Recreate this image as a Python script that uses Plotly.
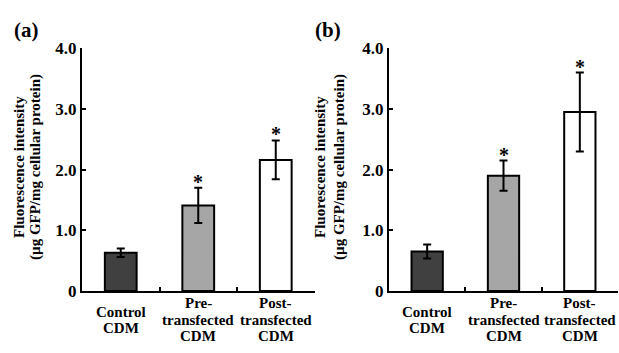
import plotly.graph_objects as go

cat_keys = ["Control", "Pre", "Post"]
cat_lines = [["Control", "CDM"], ["Pre-", "transfected", "CDM"], ["Post-", "transfected", "CDM"]]
means_a = [0.63, 1.41, 2.16]
errs_a = [0.07, 0.29, 0.32]
means_b = [0.65, 1.90, 2.95]
errs_b = [0.115, 0.25, 0.65]
sig = ["", "*", "*"]
bar_colors = ["#404040", "#a6a6a6", "#ffffff"]
ytick_vals = [0, 1, 2, 3, 4]
ytick_text = ["0", "1.0", "2.0", "3.0", "4.0"]
panel_labels = ["(a)", "(b)"]
y_title_lines = ["Fluorescence intensity", "(µg GFP/mg cellular protein)"]

W, H = 619, 353
FONT = "Liberation Serif, Times New Roman, serif"

fig = go.Figure()
annotations = []

def bold(size):
    return dict(family=FONT, size=size, color="black", weight="bold")

panels = [
    ("x", "y", means_a, errs_a, [19, 35], 12, panel_labels[0]),
    ("x2", "y2", means_b, errs_b, [320, 339], 313, panel_labels[1]),
]
for xa, ya, means, errs, title_x, lab_x, plab in panels:
    fig.add_trace(go.Bar(
        x=cat_keys, y=means, xaxis=xa, yaxis=ya, width=0.41,
        marker=dict(color=bar_colors, line=dict(color="black", width=2)),
        error_y=dict(type="data", array=errs, visible=True, color="black", thickness=2, width=4),
        showlegend=False, hoverinfo="skip",
    ))
    for k, m, e, s in zip(cat_keys, means, errs, sig):
        if s:
            annotations.append(dict(x=k, y=m + e, xref=xa, yref=ya, text="<b>*</b>", showarrow=False,
                                    yanchor="bottom", yshift=-7, font=bold(20)))
    # category labels (one annotation per line, centred under each bar)
    for k, lines in zip(cat_keys, cat_lines):
        n = len(lines)
        for i, line in enumerate(lines):
            ypx = 328.5 + (i - (n - 1) / 2) * 17.5
            annotations.append(dict(x=k, y=(H - ypx) / H, xref=xa, yref="paper", text=line,
                                    showarrow=False, yanchor="middle", xanchor="center", font=bold(15)))
    # y-axis title (two tight rotated lines)
    for tx, line in zip(title_x, y_title_lines):
        annotations.append(dict(x=tx / W, y=(H - 167) / H, xref="paper", yref="paper", text=line,
                                textangle=-90, showarrow=False, xanchor="center", yanchor="middle",
                                font=bold(15)))
    annotations.append(dict(x=lab_x / W, y=(H - 22) / H, xref="paper", yref="paper", text=plab,
                            showarrow=False, xanchor="left", yanchor="middle", font=bold(21)))

ydom = [(H - 298) / H, (H - 41.5) / H]
xax = dict(range=[-0.5, 2.5], showline=True, linecolor="black", linewidth=2, ticks="inside",
           tickson="boundaries", ticklen=4, tickwidth=2, tickcolor="black", showticklabels=False,
           showgrid=False, zeroline=False, fixedrange=True)
yax = dict(range=[0, 4], domain=ydom, showline=True, linecolor="black", linewidth=2, ticks="inside",
           ticklen=4, tickwidth=2, tickcolor="black", tickvals=ytick_vals, ticktext=ytick_text,
           tickfont=bold(17), showgrid=False, zeroline=False)

fig.update_layout(
    width=W, height=H, margin=dict(l=0, r=0, t=0, b=0),
    paper_bgcolor="white", plot_bgcolor="white",
    xaxis=dict(xax, domain=[82 / W, 314.5 / W], anchor="y"),
    yaxis=dict(yax, anchor="x"),
    xaxis2=dict(xax, domain=[389 / W, 618 / W], anchor="y2"),
    yaxis2=dict(yax, anchor="x2"),
    annotations=annotations,
    bargap=0.5,
)

fig.write_html("out.html")
